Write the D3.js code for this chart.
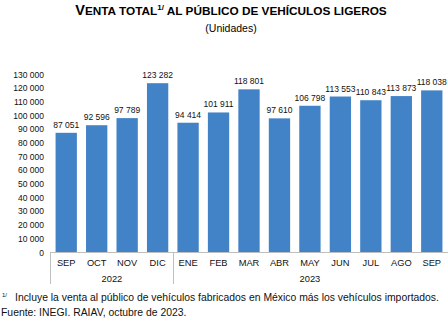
<!DOCTYPE html>
<html>
<head>
<meta charset="utf-8">
<script src="https://cdn.jsdelivr.net/npm/d3@7"></script>
<style>
  body { margin: 0; background: #fff; }
  svg { font-family: "Liberation Sans", Arial, sans-serif; }
</style>
</head>
<body>
<svg id="chart" width="448" height="321"></svg>
<script>
// datos del gráfico
const meses = ["SEP", "OCT", "NOV", "DIC", "ENE", "FEB", "MAR", "ABR", "MAY", "JUN", "JUL", "AGO", "SEP"];
const anios = ["2022", "2022", "2022", "2022", "2023", "2023", "2023", "2023", "2023", "2023", "2023", "2023", "2023"];
const ventas = [87051, 92596, 97789, 123282, 94414, 101911, 118801, 97610, 106798, 113553, 110843, 113873, 118038];
const ticksY = [0, 10000, 20000, 30000, 40000, 50000, 60000, 70000, 80000, 90000, 100000, 110000, 120000, 130000];

const svg = d3.select("#chart");
const fmt = v => d3.format(",")(v).replace(/,/g, " ");

const keys = meses.map((m, i) => i);
const x = d3.scaleBand().domain(keys).range([51, 447]).paddingInner(0.3).paddingOuter(0.15);
const y = d3.scaleLinear().domain([0, 130000]).range([252, 74]);

// título
const title = svg.append("text").attr("x", 231).attr("y", 15)
    .attr("text-anchor", "middle").attr("font-weight", "bold").attr("fill", "#000");
title.append("tspan").attr("font-size", 14.5).text("V");
title.append("tspan").attr("font-size", 11.8).text("ENTA TOTAL");
title.append("tspan").attr("font-size", 8).attr("dy", -5).text("1/");
title.append("tspan").attr("font-size", 11.8).attr("dy", 5).text(" AL PÚBLICO DE VEHÍCULOS LIGEROS");

svg.append("text").attr("x", 231).attr("y", 32).attr("text-anchor", "middle")
    .attr("font-size", 10.5).text("(Unidades)");

// eje Y
svg.append("g").selectAll("text").data(ticksY).enter().append("text")
    .attr("x", 44).attr("y", d => y(d) + 3.5).attr("text-anchor", "end")
    .attr("font-size", 8.5).attr("fill", "#111")
    .text(d => fmt(d));

// barras
svg.append("g").selectAll("rect").data(ventas).enter().append("rect")
    .attr("x", (d, i) => x(i)).attr("width", x.bandwidth())
    .attr("y", d => y(d)).attr("height", d => y(0) - y(d))
    .attr("fill", "#4283c7");

svg.append("g").selectAll("text").data(ventas).enter().append("text")
    .attr("x", (d, i) => x(i) + x.bandwidth() / 2).attr("y", d => y(d) - 5)
    .attr("text-anchor", "middle").attr("font-size", 8.5).attr("fill", "#111")
    .text(d => fmt(d));

// eje X
const gris = "#bfbfbf";
svg.append("line").attr("x1", 50).attr("x2", 448).attr("y1", 252.5).attr("y2", 252.5)
    .attr("stroke", gris);

svg.append("g").selectAll("text").data(meses).enter().append("text")
    .attr("x", (d, i) => x(i) + x.bandwidth() / 2).attr("y", 266)
    .attr("text-anchor", "middle").attr("font-size", 9.3).attr("fill", "#111")
    .text(d => d);

// grupos por año
const grupos = d3.groups(keys, i => anios[i]);
const step = x.step();
grupos.forEach(([anio, idx]) => {
  const x0 = x(idx[0]) - step * x.paddingInner() / 2;
  const x1 = x(idx[idx.length - 1]) + x.bandwidth() + step * x.paddingInner() / 2;
  svg.append("text").attr("x", (x0 + x1) / 2).attr("y", 282)
      .attr("text-anchor", "middle").attr("font-size", 9.3).attr("fill", "#111").text(anio);
});
const bordes = [50, x(4) - step * x.paddingInner() / 2];
bordes.forEach(b => {
  svg.append("line").attr("x1", Math.round(b) + 0.5).attr("x2", Math.round(b) + 0.5)
      .attr("y1", 252).attr("y2", 284).attr("stroke", gris);
});

// notas
const nota = svg.append("text").attr("x", 2).attr("y", 301).attr("font-size", 10.4).attr("fill", "#111");
nota.append("tspan").attr("font-size", 6).attr("dy", -4).text("1/");
nota.append("tspan").attr("x", 15).attr("dy", 4).text("Incluye la venta al público de vehículos fabricados en México más los vehículos importados.");

svg.append("text").attr("x", 1).attr("y", 316).attr("font-size", 10.4).attr("fill", "#111")
    .text("Fuente: INEGI. RAIAV, octubre de 2023.");
</script>
</body>
</html>
